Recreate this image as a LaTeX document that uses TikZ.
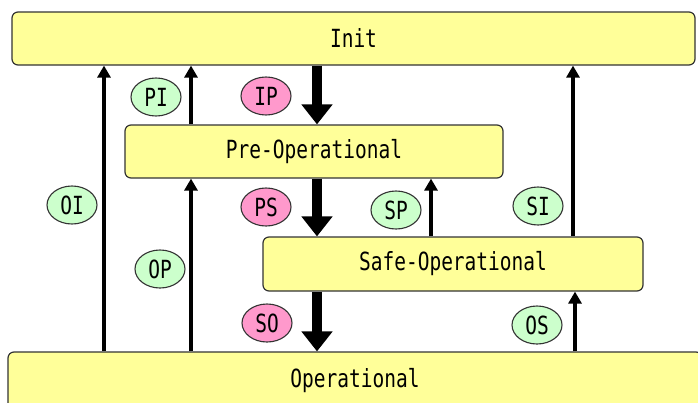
\documentclass[tikz,border=0pt]{standalone}
\usepackage{fontspec}
\usetikzlibrary{arrows.meta,shapes.geometric}
\newfontfamily\boxfont[FakeStretch=0.78]{DejaVu Sans Mono}
\definecolor{statefill}{HTML}{FFFF99}
\definecolor{upfill}{HTML}{CCFFCC}
\definecolor{downfill}{HTML}{FF99CC}
\definecolor{edge}{HTML}{333333}
\tikzset{
  state/.style={draw=edge, line width=1.2pt, fill=statefill, rounded corners=6pt,
    inner sep=0pt, font=\boxfont\fontsize{25}{27}\selectfont},
  tag/.style={ellipse, draw=edge, line width=1.1pt, inner sep=0pt,
    minimum width=50pt, minimum height=38pt, font=\boxfont\fontsize{25}{27}\selectfont},
  uptag/.style={tag, fill=upfill},
  downtag/.style={tag, fill=downfill},
  upline/.style={line width=4.5pt, -{Triangle[width=13pt,length=12pt]}},
  downline/.style={line width=10pt, -{Triangle[width=30pt,length=20pt]}},
}
\begin{document}
\begin{tikzpicture}[x=1pt, y=-1pt]
  \useasboundingbox (0,0) rectangle (698,402);
  \begin{scope}
    \clip (0,0) rectangle (698,402);
    % the four states
    \node[state, minimum width=683pt, minimum height=53pt] (init) at (353.5,38.5) {Init};
    \node[state, minimum width=378pt, minimum height=53pt] (preop) at (314,151.5) {Pre-Operational};
    \node[state, minimum width=380pt, minimum height=54pt] (safeop) at (453,264) {Safe-Operational};
    \node[state, minimum width=694pt, minimum height=58pt] (op) at (355,381) {Operational};
  \end{scope}

  % columns of the transition arrows
  \coordinate (colOI) at (104,0);
  \coordinate (colP) at (191,0);
  \coordinate (colD) at (317,0);
  \coordinate (colSP) at (431,0);
  \coordinate (colSI) at (573,0);
  \coordinate (colOS) at (575,0);

  % upward transitions
  \draw[upline] (colOI |- op.north) -- (colOI |- init.south);
  \draw[upline] (colP |- preop.north) -- (colP |- init.south);
  \draw[upline] (colP |- op.north) -- (colP |- preop.south);
  \draw[upline] (colSP |- safeop.north) -- (colSP |- preop.south);
  \draw[upline] (colSI |- safeop.north) -- (colSI |- init.south);
  \draw[upline] (colOS |- op.north) -- (colOS |- safeop.south);

  % downward transitions
  \draw[downline] (colD |- init.south) -- (colD |- preop.north);
  \draw[downline] (colD |- preop.south) -- (colD |- safeop.north);
  \draw[downline] (colD |- safeop.south) -- (colD |- op.north);

  % transition tags
  \node[uptag] (tPI) at (156,97) {PI};
  \node[downtag] (tIP) at (266,96) {IP};
  \node[uptag] (tOI) at (72,205) {OI};
  \node[downtag] (tPS) at (266,207) {PS};
  \node[uptag] (tSP) at (396,210) {SP};
  \node[uptag] (tSI) at (538,206) {SI};
  \node[uptag] (tOP) at (160,269) {OP};
  \node[downtag] (tSO) at (267,323) {SO};
  \node[uptag] (tOS) at (537,325) {OS};
\end{tikzpicture}
\end{document}
